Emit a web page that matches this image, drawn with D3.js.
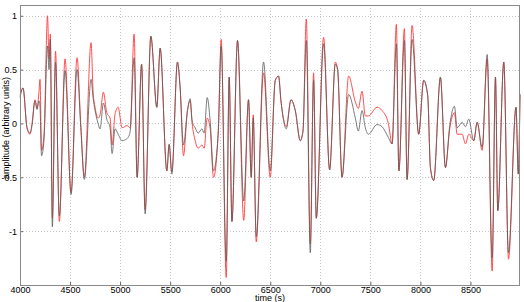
<!DOCTYPE html>
<html><head><meta charset="utf-8">
<script src="https://cdn.jsdelivr.net/npm/d3@7"></script>
<style>body{margin:0;background:#fff}svg{display:block}text{font-family:"Liberation Sans",Arial,sans-serif}</style>
</head><body><svg id="c" width="524" height="302"></svg>
<script>
const times = [4000,4030,4070,4100,4120,4150,4170,4190,4200,4215,4240,4275,4290,4303,4323,4355,4393,4450,4510,4570,4607,4643,4710,4730,4750,4780,4800,4833,4867,4900,4920,4950,4980,5020,5070,5100,5140,5170,5215,5250,5307,5367,5400,5467,5490,5517,5573,5600,5633,5673,5700,5720,5750,5780,5817,5840,5870,5900,5933,5980,6010,6060,6090,6117,6173,6235,6283,6310,6330,6360,6433,6500,6550,6583,6607,6660,6707,6750,6800,6827,6860,6900,6933,6960,7033,7093,7150,7173,7217,7283,7350,7380,7417,7450,7480,7567,7617,7680,7717,7760,7785,7840,7867,7917,7983,8033,8073,8100,8133,8200,8250,8293,8340,8367,8417,8450,8483,8533,8567,8617,8667,8717,8750,8773,8833,8880,8955,8978,8995];
const seriesBlack = [0.24,0.33,-0.04,-0.09,-0.02,0.21,0.13,0.21,0.15,-0.3,-0.15,0.72,0.5,0.78,-0.96,0.57,-0.86,0.49,-0.66,0.5,-0.04,-0.52,0.41,0.24,0.12,0.0,-0.05,0.19,0.04,-0.04,-0.28,-0.05,-0.1,-0.16,-0.14,-0.08,0.61,-0.5,0.55,-0.84,0.81,0.15,0.7,-0.44,-0.19,-0.47,0.57,0.33,-0.2,0.12,0.23,0.02,-0.04,-0.09,-0.05,-0.09,0.24,0.02,-0.44,-0.09,0.72,-1.28,0.43,-0.91,0.77,-0.72,0.22,-0.5,0.05,-1.05,0.57,-0.44,0.4,0.44,0.21,-0.05,0.22,0.12,-0.16,-0.07,0.77,-1.2,0.4,-0.88,0.74,-0.43,0.55,0.5,-0.5,0.27,0.05,-0.07,0.12,-0.04,-0.1,-0.01,-0.03,-0.13,-0.19,0.74,-0.44,0.77,-0.52,0.78,-0.1,0.4,0.26,-0.41,-0.53,0.43,-0.41,-0.02,0.16,-0.04,0.01,-0.03,0.04,-0.16,0.01,-0.22,0.64,-1.25,0.43,-0.81,0.57,-1.2,0.15,-0.47,0.27];
const seriesRed = [0.26,0.33,-0.04,-0.1,0.0,0.22,0.14,0.3,0.41,-0.25,-0.1,1.0,0.6,0.83,-0.88,0.67,-0.91,0.6,-0.64,0.61,0.0,-0.5,0.75,0.3,0.15,0.05,0.08,0.29,0.1,0.05,-0.2,0.09,0.15,-0.04,-0.02,-0.04,0.83,-0.5,0.55,-0.8,0.81,0.15,0.7,-0.44,-0.2,-0.45,0.57,0.33,-0.3,0.12,0.21,0.0,-0.16,-0.23,-0.2,-0.23,0.05,-0.05,-0.5,-0.09,0.78,-1.43,0.43,-0.91,0.77,-0.9,0.22,-0.5,0.08,-1.1,0.47,-0.5,0.4,0.44,0.21,-0.03,0.22,0.12,-0.16,-0.07,0.97,-1.12,0.47,-0.88,0.8,-0.43,0.57,0.5,-0.5,0.44,0.2,0.14,0.3,0.07,0.07,0.15,0.12,0.0,-0.19,0.92,-0.44,0.88,-0.52,0.91,-0.1,0.4,0.26,-0.41,-0.53,0.43,-0.41,-0.05,0.1,-0.1,-0.1,-0.19,-0.1,-0.16,0.01,-0.25,0.6,-1.37,0.43,-0.81,0.57,-1.26,0.15,-0.47,0.27];
const xTicks = [4000,4500,5000,5500,6000,6500,7000,7500,8000,8500];
const yTicks = [-1,-0.5,0,0.5,1];
const xLabel = "time (s)";
const yLabel = "amplitude (arbitrary units)";

const svg = d3.select("#c");
const L=20,R=520,T=5,B=285;
const x = d3.scaleLinear().domain([4000,8995]).range([L,R]);
const y = d3.scaleLinear().domain([-1.5,1.1]).range([B,T]);

// grid
const g = svg.append("g");
g.selectAll(".gx").data(xTicks.slice(1)).join("line")
 .attr("x1",d=>Math.round(x(d))+0.5).attr("x2",d=>Math.round(x(d))+0.5).attr("y1",T).attr("y2",B)
 .attr("stroke","#c8c8c8").attr("stroke-dasharray","1,2").attr("stroke-width",1);
g.selectAll(".gy").data(yTicks).join("line")
 .attr("y1",d=>Math.round(y(d))+0.5).attr("y2",d=>Math.round(y(d))+0.5).attr("x1",L).attr("x2",R)
 .attr("stroke","#c8c8c8").attr("stroke-dasharray","1,2").attr("stroke-width",1);

// lines
const idx = d3.range(times.length);
const lineB = d3.line().x(i=>x(times[i])).y(i=>y(seriesBlack[i])).curve(d3.curveMonotoneX);
const lineR = d3.line().x(i=>x(times[i])).y(i=>y(seriesRed[i])).curve(d3.curveMonotoneX);
svg.append("path").attr("d",lineR(idx)).attr("fill","none").attr("stroke","#ff3b3b").attr("stroke-width",0.9);
svg.append("path").attr("d",lineB(idx)).attr("fill","none").attr("stroke","#5a5a5a").attr("stroke-width",0.8);

// axes
const xa = d3.axisBottom(x).tickValues(xTicks).tickSize(-3).tickPadding(2).tickFormat(d3.format("d"));
const ya = d3.axisLeft(y).tickValues(yTicks).tickSize(-3).tickPadding(3).tickFormat(d=>String(d));
const gx = svg.append("g").attr("transform",`translate(0,${B})`).call(xa);
const gy = svg.append("g").attr("transform",`translate(${L},0)`).call(ya);
[gx,gy].forEach(a=>{a.select(".domain").remove();a.selectAll("line").attr("stroke","#666");a.selectAll("text").attr("font-size",9).attr("fill","#000").attr("font-family","Liberation Sans, Arial, sans-serif");});
svg.append("rect").attr("x",L+0.5).attr("y",T+0.5).attr("width",R-L-1).attr("height",B-T).attr("fill","none").attr("stroke","#8a8a8a").attr("stroke-width",1);

svg.append("text").attr("x",270).attr("y",300.5).attr("text-anchor","middle").attr("font-size",9).text(xLabel);
svg.append("text").attr("transform","translate(8.5,128) rotate(-90)").attr("text-anchor","middle").attr("font-size",9).text(yLabel);
</script></body></html>
